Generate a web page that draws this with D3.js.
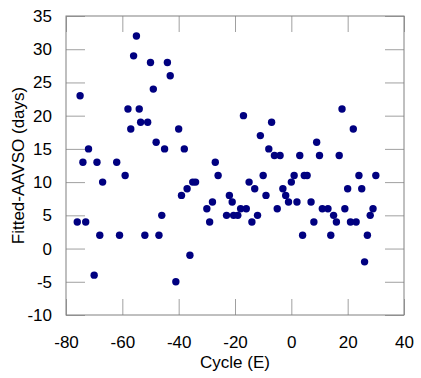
<!DOCTYPE html>
<html>
<head>
<meta charset="utf-8">
<script src="https://cdn.jsdelivr.net/npm/d3@7"></script>
<style>
  body { margin: 0; background: #fff; }
  text { font-family: "Liberation Sans", Arial, sans-serif; }
</style>
</head>
<body>
<div id="chart"></div>
<script>
// Data: cycle number and fitted-AAVSO difference (days)
var cycles = [-76, -75, -74, -73, -72, -70, -69, -68, -67, -62, -61, -59, -58, -57, -56, -55, -54, -53.5, -52, -51,
  -50, -49, -48, -47, -46, -45, -44, -43, -41, -40, -39, -38, -37, -36, -35, -34, -30, -29, -28, -27,
  -26, -23, -22, -21, -20.5, -19, -18, -17, -16, -15, -14, -13, -12, -11, -10, -9, -8, -7, -6, -5,
  -4, -3, -2, -1, 0, 1, 2, 3, 4, 4.6, 5.6, 7, 8, 9, 10, 11, 13, 15, 14, 16,
  17, 18, 19, 20, 21, 22, 23, 24, 25, 26, 27, 28, 29, 30];
var diffs = [4, 23, 13, 4, 15, -4, 13, 2, 10, 13, 2, 11, 21, 18, 29, 32, 21, 19, 2, 19,
  28, 24, 16, 2, 5, 15, 28, 26, -5, 18, 8, 15, 9, -1, 10, 10, 6, 4, 7, 13,
  11, 5, 8, 7, 5, 5, 6, 20, 6, 10, 4, 9, 5, 17, 11, 8, 15, 19, 14, 6,
  14, 9, 8, 7, 10, 11, 7, 14, 2, 11, 11, 7, 4, 16, 14, 6, 6, 5, 2, 4,
  14, 21, 6, 9, 4, 18, 4, 11, 9, -2, 2, 5, 6, 11];

var xTicks = [-80, -60, -40, -20, 0, 20, 40];
var yTicks = [-10, -5, 0, 5, 10, 15, 20, 25, 30, 35];

var margin = { top: 16, right: 17, bottom: 63, left: 66 };
var width = 421 - margin.left - margin.right;
var height = 378 - margin.top - margin.bottom;

const svg = d3
  .select("#chart")
  .append("svg")
  .attr("width", 421)
  .attr("height", 378)
  .append("g")
  .attr("transform", `translate(${margin.left},${margin.top})`);

const xScale = d3.scaleLinear().domain([-80, 40]).range([0, width]);
const yScale = d3.scaleLinear().domain([-10, 35]).range([height, 0]);

// inward ticks on all four sides, plain hyphen for negatives
svg.append("g")
  .attr("class", "x-axis")
  .attr("transform", `translate(0,${height})`)
  .call(d3.axisBottom(xScale).tickValues(xTicks).tickFormat((d) => String(d))
    .tickSizeInner(-16).tickSizeOuter(0).tickPadding(21));

svg.append("g")
  .attr("class", "x-axis-top")
  .call(d3.axisTop(xScale).tickValues(xTicks).tickSizeInner(-16).tickSizeOuter(0).tickFormat(""));

svg.append("g")
  .attr("class", "y-axis")
  .call(d3.axisLeft(yScale).tickValues(yTicks).tickFormat((d) => String(d))
    .tickSizeInner(-19).tickSizeOuter(0).tickPadding(14));

svg.append("g")
  .attr("class", "y-axis-right")
  .attr("transform", `translate(${width},0)`)
  .call(d3.axisRight(yScale).tickValues(yTicks).tickSizeInner(-19).tickSizeOuter(0).tickFormat(""));

svg.selectAll(".domain").remove();
svg.selectAll(".tick line").attr("stroke", "#a0a0a0");
svg.selectAll(".tick text")
  .attr("fill", "#000")
  .style("font-size", "17px");

// plot frame
svg.append("rect")
  .attr("x", 0)
  .attr("y", 0)
  .attr("width", width)
  .attr("height", height)
  .attr("fill", "none")
  .attr("stroke", "#808080")
  .attr("stroke-width", 1);

// points
svg.selectAll("circle.pt")
  .data(cycles)
  .enter()
  .append("circle")
  .attr("class", "pt")
  .attr("cx", function (d) { return xScale(d); })
  .attr("cy", function (d, i) { return yScale(diffs[i]); })
  .attr("r", 3.7)
  .attr("fill", "#000080");

// axis labels
svg.append("text")
  .attr("x", width / 2)
  .attr("y", height + 53)
  .style("text-anchor", "middle")
  .style("font-size", "17px")
  .text("Cycle (E)");

svg.append("text")
  .attr("x", -height / 2)
  .attr("y", -margin.left + 24)
  .attr("transform", "rotate(-90)")
  .style("text-anchor", "middle")
  .style("font-size", "17px")
  .text("Fitted-AAVSO (days)");
</script>
</body>
</html>
